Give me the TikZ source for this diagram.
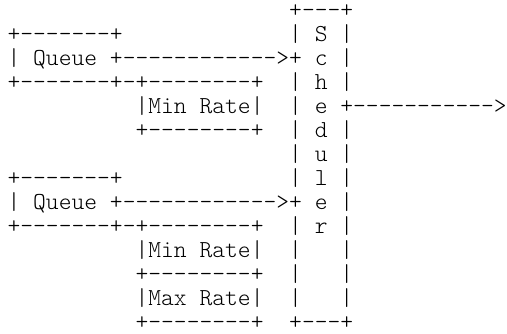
\documentclass[tikz,border=0pt]{standalone}
\begin{document}
\begin{tikzpicture}[x=1pt,y=1pt,
  txt/.style={anchor=base west,inner sep=0pt,outer sep=0pt,font=\fontsize{24.38pt}{24pt}\ttfamily\fontseries{l}\selectfont,text=black}]
\useasboundingbox[fill=white] (0,0) rectangle (507,-333);
\newcommand\seg[4]{\node[txt] (#1) at ({7.6+12.8*#2},{-17.5-24.0*#3}) {#4};}
\seg{r0s}{22}{0}{+---+}
\seg{r1q}{0}{1}{+-------+}
\seg{r1s}{22}{1}{|\ S\ |}
\seg{r2}{0}{2}{|\ Queue\ +------------>+\ c\ |}
\seg{r3q}{0}{3}{+-------+-+--------+}
\seg{r3s}{22}{3}{|\ h\ |}
\seg{r4m}{10}{4}{|Min\ Rate|}
\seg{r4s}{22}{4}{|\ e\ +----------->}
\seg{r5m}{10}{5}{+--------+}
\seg{r5s}{22}{5}{|\ d\ |}
\seg{r6s}{22}{6}{|\ u\ |}
\seg{r7q}{0}{7}{+-------+}
\seg{r7s}{22}{7}{|\ l\ |}
\seg{r8}{0}{8}{|\ Queue\ +------------>+\ e\ |}
\seg{r9q}{0}{9}{+-------+-+--------+}
\seg{r9s}{22}{9}{|\ r\ |}
\seg{r10m}{10}{10}{|Min\ Rate|}
\seg{r10s}{22}{10}{|\ \ \ |}
\seg{r11m}{10}{11}{+--------+}
\seg{r11s}{22}{11}{|\ \ \ |}
\seg{r12m}{10}{12}{|Max\ Rate|}
\seg{r12s}{22}{12}{|\ \ \ |}
\seg{r13m}{10}{13}{+--------+}
\seg{r13s}{22}{13}{+---+}
\end{tikzpicture}
\end{document}
